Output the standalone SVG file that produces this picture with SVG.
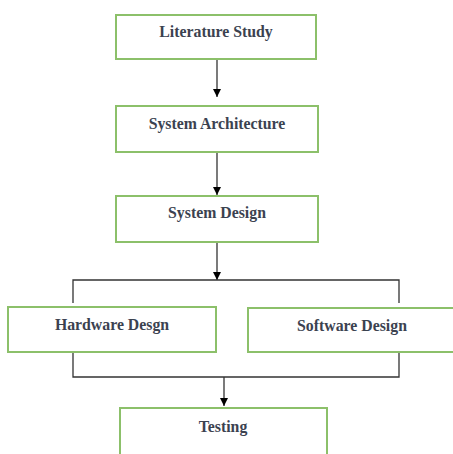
<svg xmlns="http://www.w3.org/2000/svg" width="453" height="454" viewBox="0 0 453 454">
<defs>
<style>
.box{fill:#fff;stroke:#8cc06a;stroke-width:2}
.lbl{font-family:"Liberation Serif","DejaVu Serif",serif;font-size:15.8px;font-weight:bold;fill:#3b4250;text-anchor:middle}
.ln{fill:none;stroke:#333;stroke-width:1.3}
</style>
<marker id="ah" viewBox="0 0 10 10" refX="10" refY="5" markerWidth="8" markerHeight="8" markerUnits="userSpaceOnUse" orient="auto">
<path d="M0,0 L10,5 L0,10 z" fill="#000"/>
</marker>
</defs>
<rect width="453" height="454" fill="#fff"/>
<g id="connectors">
<line class="ln" x1="217" y1="59" x2="217" y2="97" marker-end="url(#ah)"/>
<line class="ln" x1="217" y1="153" x2="217" y2="195" marker-end="url(#ah)"/>
<line class="ln" x1="217" y1="242" x2="217" y2="280" marker-end="url(#ah)"/>
<polyline class="ln" points="73,303 73,280 399,280 399,303"/>
<polyline class="ln" points="73,353 73,377 399,377 399,353"/>
<line class="ln" x1="224" y1="377" x2="224" y2="406" marker-end="url(#ah)"/>
</g>
<g id="literature-study">
<rect class="box" x="116" y="15" width="200" height="44"/>
<text class="lbl" x="216" y="37">Literature Study</text>
</g>
<g id="system-architecture">
<rect class="box" x="116" y="106" width="202" height="46"/>
<text class="lbl" x="217" y="129">System Architecture</text>
</g>
<g id="system-design">
<rect class="box" x="116" y="196" width="202" height="46"/>
<text class="lbl" x="217" y="218">System Design</text>
</g>
<g id="hardware-design">
<rect class="box" x="8" y="307" width="208" height="45"/>
<text class="lbl" x="112" y="330">Hardware Desgn</text>
</g>
<g id="software-design">
<rect class="box" x="248" y="308" width="210" height="44"/>
<text class="lbl" x="352" y="331">Software Design</text>
</g>
<g id="testing">
<rect class="box" x="120" y="408" width="207" height="50"/>
<text class="lbl" x="223" y="432">Testing</text>
</g>
</svg>
